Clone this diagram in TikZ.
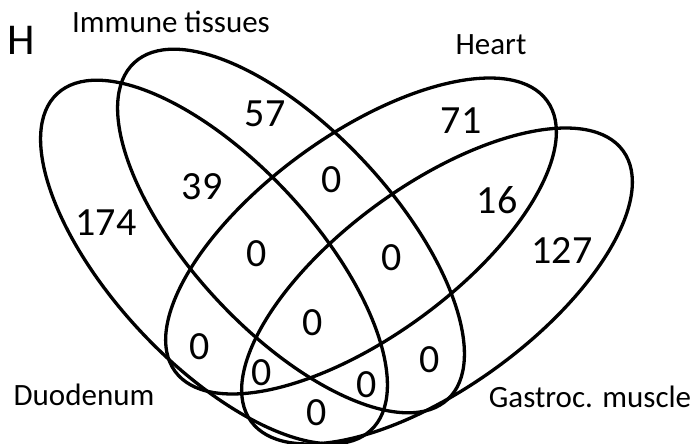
\documentclass[tikz,border=0pt]{standalone}
\usepackage{fontspec}
\setmainfont{Carlito}
\begin{document}
\begin{tikzpicture}[x=1pt,y=-1pt,
  venn/.style={draw=black, line width=3.3pt},
  lab/.style={font=\fontsize{31}{31}\selectfont, anchor=base, inner sep=0pt},
  num/.style={font=\fontsize{40}{40}\selectfont, inner sep=0pt}]
\useasboundingbox (0,0) rectangle (696,444);
% ellipses
\draw[venn, rotate around={-47:(214,262)}] (214,262) ellipse [x radius=230, y radius=101];
\draw[venn, rotate around={-47:(291,231)}] (291,231) ellipse [x radius=230, y radius=101];
\draw[venn, rotate around={36:(361,236)}] (361,236) ellipse [x radius=230, y radius=101];
\draw[venn, rotate around={36:(437,286)}] (437,286) ellipse [x radius=230, y radius=101];
% labels
\node[lab, font=\fontsize{44}{44}\selectfont] (panel) at (21,55) {H};
\node[lab] (limm) at (171,33) {Immune tissues};
\node[lab] (lheart) at (491,55) {Heart};
\node[lab] (lduo) at (84,405) {Duodenum};
\node[lab] (lgas) at (590,407) {Gastroc. muscle};
% numbers
\node[num] (nD) at (106,223) {174};
\node[num] (nI) at (265,114) {57};
\node[num] (nH) at (461,121) {71};
\node[num] (nG) at (562,251) {127};
\node[num] (nDI) at (202,187) {39};
\node[num] (nIH) at (332,180) {0};
\node[num] (nHG) at (497,200) {16};
\node[num] (nDIH) at (257,254) {0};
\node[num] (nIHG) at (392,258) {0};
\node[num] (nAll) at (313,323) {0};
\node[num] (nDH) at (200,347) {0};
\node[num] (nDHG) at (262,373) {0};
\node[num] (nDG) at (317,413) {0};
\node[num] (nDIG) at (367,385) {0};
\node[num] (nIG) at (430,360) {0};
\end{tikzpicture}
\end{document}
